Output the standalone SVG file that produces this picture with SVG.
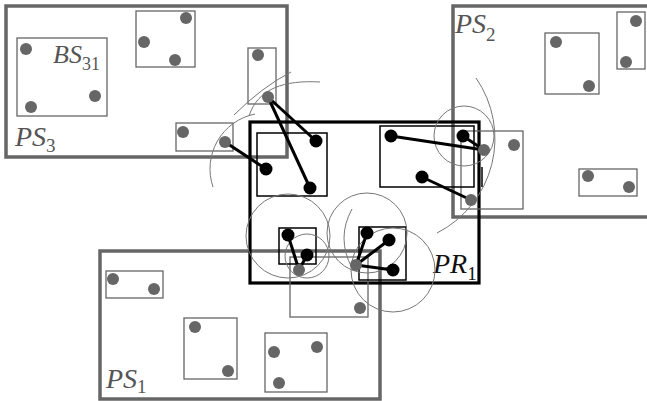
<svg xmlns="http://www.w3.org/2000/svg" width="647" height="401" viewBox="0 0 647 401">
<style>
.ps{fill:none;stroke:#666;stroke-width:3.5}
.pr{fill:none;stroke:#000;stroke-width:3.2}
.gb{fill:none;stroke:#666;stroke-width:1.3}
.bb{fill:none;stroke:#000;stroke-width:1.5}
.arc{fill:none;stroke:#777;stroke-width:1}
.ln{stroke:#000;stroke-width:3;fill:none}
.gd{fill:#666}
.bd{fill:#000}
.lbl{font-family:"Liberation Serif","Times New Roman",serif;font-style:italic;fill:#555;font-size:28px}
.sub{font-size:19px;font-style:normal}
</style>
<rect width="647" height="401" fill="#fff"/>
<g id="PS3"><rect class="ps" x="6" y="6" width="281" height="151"/>
<text class="lbl" x="15" y="146">PS<tspan class="sub" dy="6">3</tspan></text></g>
<g id="PS2"><rect class="ps" x="453" y="6" width="210" height="211"/>
<text class="lbl" x="455" y="33">PS<tspan class="sub" dy="8">2</tspan></text></g>
<g id="PS1"><rect class="ps" x="100" y="251" width="280" height="148"/>
<text class="lbl" x="106" y="388">PS<tspan class="sub" dy="5">1</tspan></text></g>
<g id="PR1"><rect class="pr" x="250" y="122" width="229" height="161"/>
<text class="lbl" x="433" y="273" style="fill:#111">PR<tspan class="sub" dy="7">1</tspan></text></g>
<g id="BS31"><rect class="gb" x="17" y="38" width="90" height="78"/>
<text class="lbl" x="53" y="63" style="font-size:26px">BS<tspan class="sub" dy="7" style="font-size:18px">31</tspan></text>
<circle class="gd" cx="26" cy="49" r="6"/><circle class="gd" cx="31" cy="107" r="6"/><circle class="gd" cx="95" cy="96" r="6"/></g>
<g id="boxes-gray">
<rect class="gb" x="136" y="11" width="59" height="56"/>
<rect class="gb" x="248" y="48" width="28" height="56"/>
<rect class="gb" x="176" y="123" width="57" height="28"/>
<rect class="gb" x="545" y="33" width="54" height="61"/>
<rect class="gb" x="617" y="12" width="28" height="57"/>
<rect class="gb" x="579" y="169" width="58" height="27"/>
<rect class="gb" x="461" y="131" width="62" height="78"/>
<rect class="gb" x="106" y="271" width="57" height="27"/>
<rect class="gb" x="184" y="318" width="53" height="61"/>
<rect class="gb" x="265" y="333" width="62" height="59"/>
<rect class="gb" x="290" y="257" width="78" height="60"/>
</g>
<g id="boxes-black">
<rect class="bb" x="257" y="133" width="70" height="63"/>
<rect class="bb" x="380" y="126" width="94" height="61"/>
<rect class="bb" x="279" y="228" width="37" height="36"/>
<rect class="bb" x="359" y="227" width="47" height="53"/>
<line class="bb" x1="482" y1="167" x2="482" y2="187"/>
</g>
<g id="ranges">
<circle class="arc" cx="464" cy="136" r="30"/>
<circle class="arc" cx="288" cy="236" r="42"/>
<circle class="arc" cx="307" cy="256" r="22"/>
<circle class="arc" cx="367" cy="233" r="40"/>
<circle class="arc" cx="393" cy="270" r="42"/>
<path class="arc" d="M476,78 A106,106 0 0 1 437,233"/>
<path class="arc" d="M255,114 A56,56 0 0 0 213,187"/>
<path class="arc" d="M291,72 Q262,87 234,115"/>
<path class="arc" d="M320,82 C285,80 258,88 249,116"/>
<path class="arc" d="M352,209 Q336,238 352,268"/>
</g>
<g id="connectors">
<line class="ln" x1="268" y1="97" x2="316" y2="141"/>
<line class="ln" x1="268" y1="97" x2="310" y2="188"/>
<line class="ln" x1="225" y1="142" x2="266" y2="169"/>
<line class="ln" x1="391" y1="136" x2="484" y2="150"/>
<line class="ln" x1="463" y1="136" x2="484" y2="150"/>
<line class="ln" x1="422" y1="177" x2="471" y2="200"/>
<line class="ln" x1="299" y1="270" x2="288" y2="235"/>
<line class="ln" x1="299" y1="270" x2="307" y2="255"/>
<line class="ln" x1="356" y1="265" x2="367" y2="233"/>
<line class="ln" x1="356" y1="265" x2="389" y2="240"/>
<line class="ln" x1="356" y1="265" x2="393" y2="270"/>
</g>
<g id="dots-gray">
<circle class="gd" cx="186" cy="18" r="6"/><circle class="gd" cx="144" cy="42" r="6"/><circle class="gd" cx="175" cy="60" r="6"/>
<circle class="gd" cx="258" cy="55" r="6"/><circle class="gd" cx="268" cy="97" r="6"/>
<circle class="gd" cx="183" cy="132" r="6"/><circle class="gd" cx="225" cy="142" r="6"/>
<circle class="gd" cx="556" cy="42" r="6"/><circle class="gd" cx="589" cy="86" r="6"/>
<circle class="gd" cx="636" cy="21" r="6"/><circle class="gd" cx="626" cy="62" r="6"/>
<circle class="gd" cx="588" cy="176" r="6"/><circle class="gd" cx="629" cy="187" r="6"/>
<circle class="gd" cx="484" cy="150" r="6"/><circle class="gd" cx="514" cy="145" r="6"/><circle class="gd" cx="471" cy="200" r="6"/>
<circle class="gd" cx="113" cy="279" r="6"/><circle class="gd" cx="154" cy="289" r="6"/>
<circle class="gd" cx="195" cy="327" r="6"/><circle class="gd" cx="228" cy="371" r="6"/>
<circle class="gd" cx="274" cy="352" r="6"/><circle class="gd" cx="317" cy="347" r="6"/><circle class="gd" cx="279" cy="383" r="6"/>
<circle class="gd" cx="299" cy="270" r="6"/><circle class="gd" cx="360" cy="308" r="6"/><circle class="gd" cx="356" cy="265" r="6"/>
</g>
<g id="dots-black">
<circle class="bd" cx="316" cy="141" r="6.5"/><circle class="bd" cx="266" cy="169" r="6.5"/><circle class="bd" cx="310" cy="188" r="6.5"/>
<circle class="bd" cx="391" cy="136" r="6.5"/><circle class="bd" cx="422" cy="177" r="6.5"/><circle class="bd" cx="463" cy="136" r="6.5"/>
<circle class="bd" cx="288" cy="235" r="6.5"/><circle class="bd" cx="307" cy="255" r="6.5"/>
<circle class="bd" cx="367" cy="233" r="6.5"/><circle class="bd" cx="389" cy="240" r="6.5"/><circle class="bd" cx="393" cy="270" r="6.5"/>
</g>
</svg>
